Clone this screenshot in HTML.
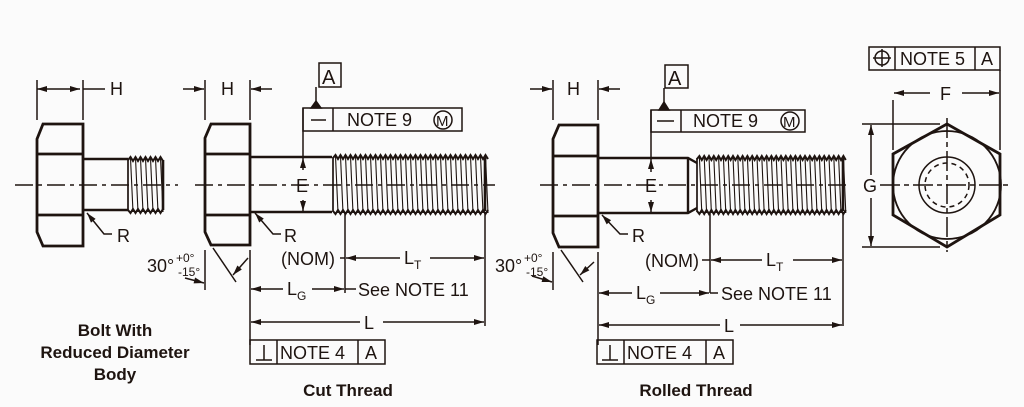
<!DOCTYPE html>
<html><head><meta charset="utf-8"><style>
html,body{margin:0;padding:0;background:#fbfbfb;}
svg{display:block;font-family:"Liberation Sans",Arial,sans-serif;}
</style></head><body>
<svg id="s" width="1024" height="407" viewBox="0 0 1024 407" xmlns="http://www.w3.org/2000/svg">
<defs>
<marker id="a" viewBox="0 0 10 6" refX="10" refY="3" markerWidth="11" markerHeight="6" markerUnits="userSpaceOnUse" orient="auto-start-reverse"><path d="M0,0L10,3L0,6z" fill="#1e1410"/></marker>
</defs>
<g id="g" stroke="#1e1410" fill="none" stroke-width="1.5">
<!-- Bolt 1 -->
<path d="M43,124H83V246H43L37,232V139Z M37,154H83 M37,215H83" stroke-width="2.8"/>
<path d="M83,159H128 M83,210H128" stroke-width="2.4"/>
<path d="M15,185H178" stroke-dasharray="18,5,4,5"/>
<line x1="37" y1="80" x2="37" y2="120"/><line x1="83" y1="80" x2="83" y2="120"/>
<line x1="37" y1="89" x2="80" y2="89" marker-start="url(#a)" marker-end="url(#a)"/><line x1="83" y1="89" x2="105" y2="89"/>
<path d="M87,213L104,234H112" marker-start="url(#a)"/>
<!-- Bolt 2 -->
<path d="M211,124H250V245H211L205,232V138Z M205,154H250 M205,215H250" stroke-width="2.8"/>
<path d="M250,157H332 M250,212H332" stroke-width="2.4"/>
<path d="M195,185H495" stroke-dasharray="18,5,4,5"/>
<line x1="205" y1="80" x2="205" y2="120"/><line x1="250" y1="80" x2="250" y2="120"/>
<line x1="183" y1="89" x2="204" y2="89" marker-end="url(#a)"/><line x1="272" y1="89" x2="251" y2="89" marker-end="url(#a)"/>
<path d="M255,213L273,234H281" marker-start="url(#a)"/>
<line x1="303" y1="108" x2="303" y2="157"/>
<line x1="303" y1="170" x2="303" y2="158" marker-end="url(#a)"/><line x1="303" y1="200" x2="303" y2="211" marker-end="url(#a)"/>
<rect x="303" y="108" width="159" height="23"/><line x1="333" y1="108" x2="333" y2="131"/>
<rect x="319" y="63" width="22" height="24"/><line x1="316" y1="87" x2="316" y2="102"/>
<path d="M311,108L316,101L321,108Z" fill="#1e1410"/>
<line x1="311" y1="120" x2="326" y2="120"/>
<circle cx="443" cy="120" r="9"/>
<line x1="205" y1="250" x2="205" y2="290"/><line x1="250" y1="250" x2="250" y2="345"/>
<line x1="213" y1="248" x2="236" y2="282"/><path d="M248,258L233,275" marker-end="url(#a)"/>
<path d="M185,278L204,283" marker-end="url(#a)"/>
<line x1="345" y1="213" x2="345" y2="293"/><line x1="485" y1="213" x2="485" y2="326"/>
<line x1="340" y1="258" x2="345" y2="258"/>
<line x1="400" y1="258" x2="346" y2="258" marker-end="url(#a)"/><line x1="430" y1="258" x2="484" y2="258" marker-end="url(#a)"/>
<line x1="283" y1="289" x2="251" y2="289" marker-end="url(#a)"/><line x1="312" y1="289" x2="344" y2="289" marker-end="url(#a)"/><line x1="345" y1="289" x2="356" y2="289"/>
<line x1="360" y1="322" x2="251" y2="322" marker-end="url(#a)"/><line x1="383" y1="322" x2="484" y2="322" marker-end="url(#a)"/>
<rect x="250" y="340" width="135" height="24"/><line x1="277" y1="340" x2="277" y2="364"/><line x1="358" y1="340" x2="358" y2="364"/>
<path d="M256,360H272 M264,345V360"/>
<!-- Bolt 3 -->
<path d="M559,125H598V247H559L553,233V139Z M553,156H598 M553,216H598" stroke-width="2.8"/>
<path d="M598,158H688L697,163 M598,213H688L697,208 M688,158V213" stroke-width="2.4"/>
<path d="M540,185H850" stroke-dasharray="18,5,4,5"/>
<line x1="553" y1="80" x2="553" y2="120"/><line x1="598" y1="80" x2="598" y2="120"/>
<line x1="530" y1="89" x2="552" y2="89" marker-end="url(#a)"/><line x1="620" y1="89" x2="599" y2="89" marker-end="url(#a)"/>
<path d="M602,215L620,234H628" marker-start="url(#a)"/>
<line x1="651" y1="110" x2="651" y2="158"/>
<line x1="651" y1="172" x2="651" y2="159" marker-end="url(#a)"/><line x1="651" y1="200" x2="651" y2="212" marker-end="url(#a)"/>
<rect x="651" y="110" width="154" height="22"/><line x1="681" y1="110" x2="681" y2="132"/>
<rect x="665" y="65" width="23" height="23"/><line x1="664" y1="88" x2="664" y2="103"/>
<path d="M659,110L664,102L669,110Z" fill="#1e1410"/>
<line x1="657" y1="121" x2="674" y2="121"/>
<circle cx="790" cy="121" r="9"/>
<line x1="553" y1="252" x2="553" y2="290"/><line x1="598" y1="252" x2="598" y2="345"/>
<line x1="561" y1="250" x2="583" y2="282"/><path d="M594,262L580,275" marker-end="url(#a)"/>
<path d="M532,276L552,282" marker-end="url(#a)"/>
<line x1="710" y1="213" x2="710" y2="293"/><line x1="843" y1="213" x2="843" y2="326"/>
<line x1="702" y1="260" x2="710" y2="260"/>
<line x1="762" y1="260" x2="711" y2="260" marker-end="url(#a)"/><line x1="793" y1="260" x2="842" y2="260" marker-end="url(#a)"/>
<line x1="632" y1="293" x2="599" y2="293" marker-end="url(#a)"/><line x1="660" y1="293" x2="709" y2="293" marker-end="url(#a)"/><line x1="710" y1="293" x2="718" y2="293"/>
<line x1="720" y1="325" x2="599" y2="325" marker-end="url(#a)"/><line x1="740" y1="325" x2="842" y2="325" marker-end="url(#a)"/>
<rect x="597" y="340" width="136" height="24"/><line x1="624" y1="340" x2="624" y2="364"/><line x1="706" y1="340" x2="706" y2="364"/>
<path d="M602,360H618 M610,345V360"/>
<!-- Hex view -->
<path d="M947,124L1000,154V215L947,247L893,215V154Z" stroke-width="2.8"/>
<circle cx="947" cy="185" r="54" stroke-width="1.8"/>
<circle cx="947" cy="185" r="28"/>
<circle cx="947" cy="185" r="22" stroke-dasharray="5,4"/>
<path d="M880,185H1008 M947,118V252" stroke-dasharray="20,4,5,4"/>
<line x1="893" y1="100" x2="893" y2="150"/><line x1="1000" y1="70" x2="1000" y2="150"/>
<line x1="930" y1="93" x2="894" y2="93" marker-end="url(#a)"/><line x1="962" y1="93" x2="999" y2="93" marker-end="url(#a)"/>
<line x1="862" y1="124" x2="940" y2="124"/><line x1="862" y1="247" x2="940" y2="247"/>
<line x1="871" y1="175" x2="871" y2="125" marker-end="url(#a)"/><line x1="871" y1="198" x2="871" y2="246" marker-end="url(#a)"/>
<rect x="869" y="47" width="131" height="23"/><line x1="895" y1="47" x2="895" y2="70"/><line x1="975" y1="47" x2="975" y2="70"/>
<circle cx="882" cy="58" r="7"/><path d="M873,58H891 M882,49V67"/>
</g>
<g fill="#1e1410" font-size="18">
<text x="110" y="95">H</text><text x="221" y="95">H</text><text x="567" y="95">H</text>
<text x="117" y="242">R</text><text x="284" y="242">R</text><text x="632" y="242">R</text>
<text x="296" y="192">E</text><text x="645" y="192">E</text>
<text x="322" y="84" font-size="20">A</text><text x="668" y="85" font-size="20">A</text>
<text x="347" y="126">NOTE 9</text><text x="436" y="126" font-size="15">M</text>
<text x="693" y="127">NOTE 9</text><text x="783" y="127" font-size="15">M</text>
<text x="147" y="272">30°</text><text x="176" y="262" font-size="12">+0°</text><text x="178" y="276" font-size="12">-15°</text>
<text x="495" y="272">30°</text><text x="524" y="262" font-size="12">+0°</text><text x="526" y="276" font-size="12">-15°</text>
<text x="281" y="265">(NOM)</text><text x="645" y="267">(NOM)</text>
<text x="404" y="264">L<tspan font-size="12" dy="5">T</tspan></text>
<text x="766" y="266">L<tspan font-size="12" dy="5">T</tspan></text>
<text x="287" y="295">L<tspan font-size="12" dy="5">G</tspan></text>
<text x="636" y="299">L<tspan font-size="12" dy="5">G</tspan></text>
<text x="358" y="296">See NOTE 11</text><text x="721" y="300">See NOTE 11</text>
<text x="364" y="329">L</text><text x="724" y="332">L</text>
<text x="280" y="359">NOTE 4</text><text x="365" y="359">A</text>
<text x="627" y="359">NOTE 4</text><text x="713" y="359">A</text>
<text x="940" y="100">F</text><text x="863" y="192">G</text>
<text x="900" y="65">NOTE 5</text><text x="981" y="65">A</text>
<g font-weight="bold" font-size="17" text-anchor="middle">
<text x="115" y="336">Bolt With</text><text x="115" y="358">Reduced Diameter</text><text x="115" y="380">Body</text>
<text x="348" y="396">Cut Thread</text><text x="696" y="396">Rolled Thread</text>
</g>
</g>
</svg>
<script>
(function(){
var g=document.getElementById('g'),NS='http://www.w3.org/2000/svg';
function p(d,w){var e=document.createElementNS(NS,'path');e.setAttribute('d',d);e.setAttribute('stroke-width',w||1.3);g.appendChild(e);}
function thread(x0,x1,yt,yb,pitch){
var top='M'+x0+','+(yt+3),bot='M'+x0+','+(yb-3),h='';
for(var x=x0;x<x1;x+=pitch){
top+=' L'+(x+pitch/2)+','+(yt)+' L'+(x+pitch)+','+(yt+4);
bot+=' L'+(x+pitch/2)+','+(yb)+' L'+(x+pitch)+','+(yb-4);
h+=' M'+(x+pitch/2)+','+(yt+1)+' L'+(x+pitch)+','+(yb-1);
}
p(top,2);p(bot,2);p(h,1.1);
p('M'+x0+','+(yt+2)+'V'+(yb-2),1.7);p('M'+x1+','+(yt+3)+'V'+(yb-3),2.6);
}
thread(128,163,157,213,5);
thread(333,485,155,214,5);
thread(697,843,156,214,4.8);
})();
</script>
</body></html>
